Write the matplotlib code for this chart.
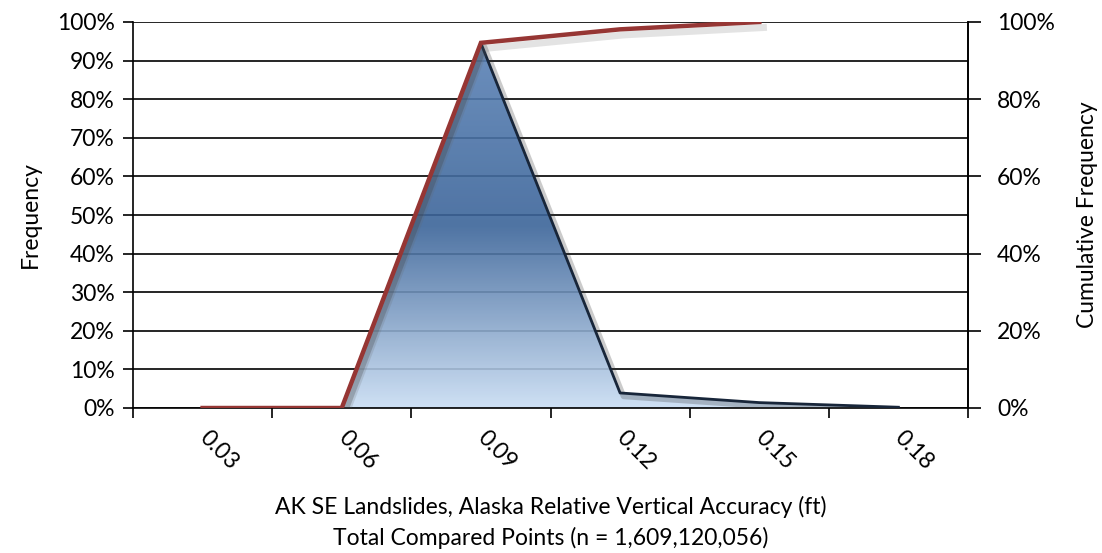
import numpy as np
import matplotlib
matplotlib.use("Agg")
import matplotlib.pyplot as plt
from matplotlib.colors import LinearSegmentedColormap
from matplotlib.patches import Polygon
import matplotlib.patheffects as pe

categories = ["0.03", "0.06", "0.09", "0.12", "0.15", "0.18"]
frequency = [0.0, 0.0, 94.5, 3.9, 1.4, 0.2]
cumulative = [0.0, 0.0, 94.6, 98.1, 100.0]

plt.rcParams['font.family'] = ['Lato', 'DejaVu Sans']
FS = 16.5

fig = plt.figure(figsize=(11.02, 5.53), dpi=100)
ax = fig.add_axes([133/1102, 1-408/553, (968-133)/1102, (408-22)/553])
x = np.arange(len(categories))
ax.set_xlim(-0.5, len(categories) - 0.5)
ax.set_ylim(0, 100)

# grid
ax.set_yticks(np.arange(0, 101, 10))
ax.set_yticklabels([f"{v}%" for v in range(0, 101, 10)], fontsize=FS)
ax.yaxis.grid(True, color='black', linewidth=1.2, zorder=0)
ax.set_axisbelow(True)

# x ticks at boundaries, labels at centers
ax.set_xticks(np.arange(-0.5, len(categories), 1.0))
ax.set_xticklabels([])
ax.set_xticks(x, minor=True)
ax.set_xticklabels(categories, minor=True, fontsize=FS, rotation=-45,
                   ha='left', va='center', rotation_mode='anchor')
ax.tick_params(axis='x', which='minor', length=0, pad=19)
ax.tick_params(axis='both', which='major', length=7, width=1.2, color='black')
ax.tick_params(axis='y', which='major', pad=6)
ax.tick_params(axis='x', which='major', direction='out')

ax.spines['top'].set_visible(False)
for s in ['left', 'right', 'bottom']:
    ax.spines[s].set_linewidth(1.2)

# gradient area
verts = [(x[0], 0)] + list(zip(x, frequency)) + [(x[-1], 0)]
poly = Polygon(verts, closed=True, facecolor='none', edgecolor='none', transform=ax.transData)
ax.add_patch(poly)
cmap = LinearSegmentedColormap.from_list('g', [(0.0, '#c9ddf3'), (0.5, '#3b6499'), (1.0, '#5c83b6')])
grad = np.linspace(0, 1, 256).reshape(-1, 1)
peak = max(frequency)
im = ax.imshow(grad, cmap=cmap, origin='lower', aspect='auto',
               extent=[x[0], x[-1], 0, peak], alpha=0.9, zorder=2)
im.set_clip_path(poly)
ax.set_xlim(-0.5, len(categories) - 0.5)
ax.set_ylim(0, 100)

# edge with shadow
ax.plot(x[1:], frequency[1:], color='#18263a', linewidth=2.0, zorder=3,
        path_effects=[pe.SimpleLineShadow(offset=(2.5, -2.5), shadow_color='#333333', alpha=0.25, linewidth=4), pe.Normal()])

ax.set_ylabel("Frequency", fontsize=FS, labelpad=12)
ax.set_xlabel("AK SE Landslides, Alaska Relative Vertical Accuracy (ft)\nTotal Compared Points (n = 1,609,120,056)",
              fontsize=FS, labelpad=16, linespacing=1.5)

ax2 = ax.twinx()
ax2.set_ylim(0, 100)
ax2.set_yticks(np.arange(0, 101, 20))
ax2.set_yticklabels([f"{v}%" for v in range(0, 101, 20)], fontsize=FS)
ax2.tick_params(axis='y', length=9, width=1.2, pad=12)
for s in ['top', 'left', 'bottom']:
    ax2.spines[s].set_visible(False)
ax2.spines['right'].set_linewidth(1.2)
ax2.plot(x[:len(cumulative)], cumulative, color='#963634', linewidth=3.2, zorder=5,
         solid_joinstyle='miter',
         path_effects=[pe.SimpleLineShadow(offset=(3, -4), shadow_color='#666666', alpha=0.18, linewidth=5), pe.Normal()])
ax2.set_ylabel("Cumulative Frequency", fontsize=FS, labelpad=16)

fig.savefig("out.png", dpi=100)
